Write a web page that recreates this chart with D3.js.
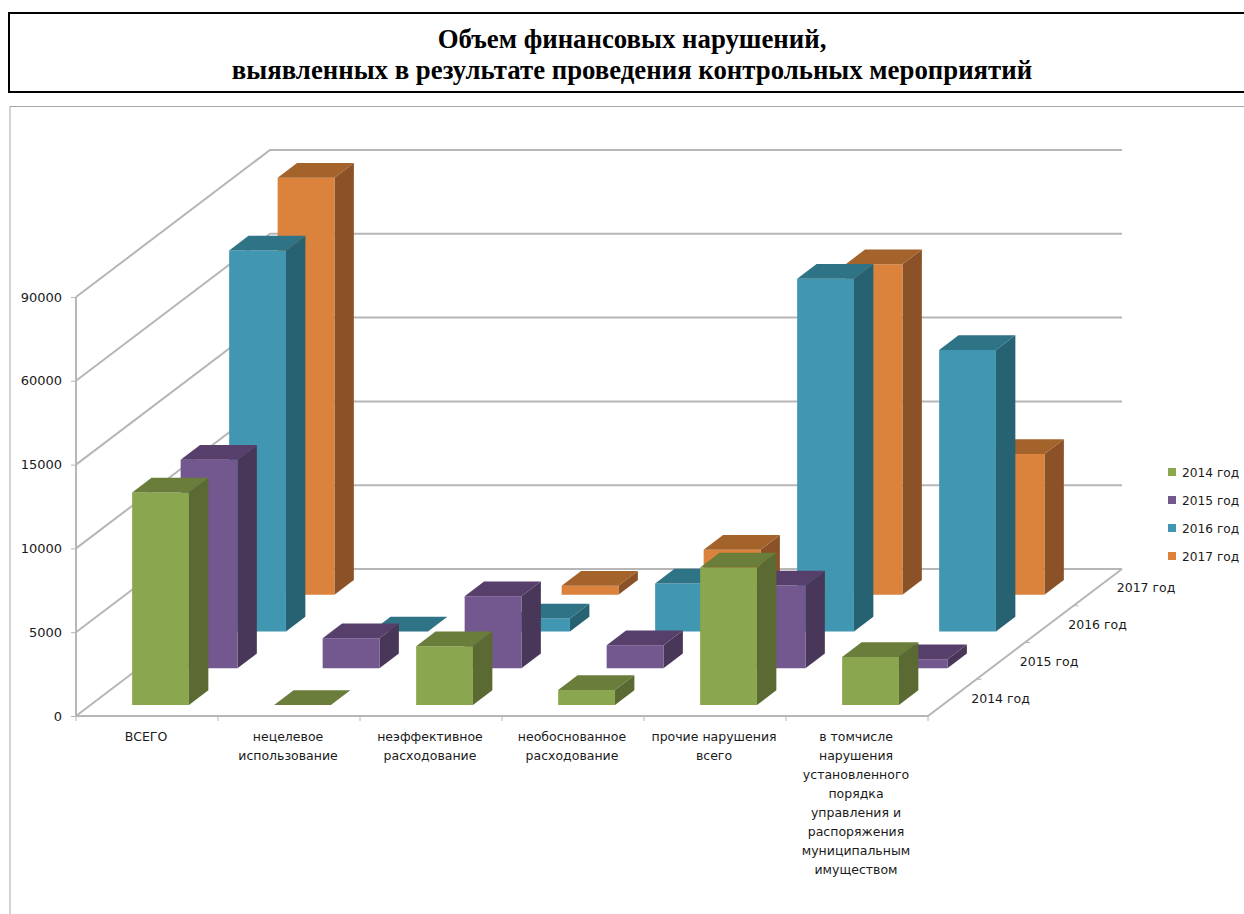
<!DOCTYPE html>
<html lang="ru">
<head>
<meta charset="utf-8">
<title>Объем финансовых нарушений</title>
<script src="https://cdn.jsdelivr.net/npm/d3@7"></script>
<style>
  html, body { margin: 0; padding: 0; background: #fff; overflow: hidden; }
  svg { display: block; }
</style>
</head>
<body>
<div id="chart"></div>
<script>
const categories = [
    "ВСЕГО",
    "нецелевое\nиспользование",
    "неэффективное\nрасходование",
    "необоснованное\nрасходование",
    "прочие нарушения\nвсего",
    "в томчисле\nнарушения\nустановленного\nпорядка\nуправления и\nраспоряжения\nмуниципальным\nимуществом"
];
const years = ["2014 год", "2015 год", "2016 год", "2017 год"];
const yTicks = [0, 5000, 10000, 15000, 60000, 90000];

// the value axis is not uniform
const values2014 = [12680, 0, 3510, 890, 8210, 2860];
const values2015 = [12440, 1790, 4290, 1370, 4940, 540];
const values2016 = [76400, 0, 770, 2860, 66300, 31200];
const values2017 = [89300, null, 540, 2680, 57500, 8400];
const seriesValues = [values2014, values2015, values2016, values2017];

const front = ["#8aa64e", "#72588f", "#4197b1", "#db823c"];
const top_ = ["#6b7d3b", "#573f6b", "#2f7386", "#a5632c"];
const side = ["#5a6a32", "#483758", "#266272", "#8a5226"];

const width = 1244;
const height = 914;
const originX = 76;
const originY = 716;
const plotW = 852;
const plotH = 419;
const depthX = 194;
const depthY = 147;
const gridColor = "#b6b6b6";
const labelFont = "'DejaVu Sans', sans-serif";

const x = d3.scaleBand().domain(categories).range([-1, plotW - 1]).paddingInner(0.6).paddingOuter(0.3);
const z = d3.scaleBand().domain(years).range([0, 1]).paddingInner(0.6).paddingOuter(0.3);
// one step per tick label, that is how the axis is spaced in the original
const y = d3.scaleLinear().domain(yTicks).range(yTicks.map((d, i) => originY - i * plotH / (yTicks.length - 1)));

// x along the categories, v is a value, d is depth 0..1
const pt = (px, v, d) => [originX + px + d * depthX, y(v) - d * depthY];
const poly = pts => pts.map(p => p.join(",")).join(" ");

const svg = d3.select("#chart").append("svg")
    .attr("width", width)
    .attr("height", height)
    .attr("viewBox", [0, 0, width, height]);

// title box
svg.append("rect")
    .attr("x", 9).attr("y", 13).attr("width", width + 10).attr("height", 79)
    .attr("fill", "none").attr("stroke", "#000").attr("stroke-width", 2);

svg.append("text")
    .attr("text-anchor", "middle")
    .attr("font-family", "'Liberation Serif', serif")
    .attr("font-weight", "bold")
    .attr("font-size", 26.8)
    .selectAll("tspan")
    .data(["Объем финансовых нарушений,", "выявленных в результате проведения контрольных мероприятий"])
    .join("tspan")
    .attr("x", 632)
    .attr("y", (d, i) => 48 + i * 31)
    .text(d => d);

// chart frame, runs off the page on the right and at the bottom
svg.append("rect")
    .attr("x", 10).attr("y", 106.5).attr("width", width + 10).attr("height", height)
    .attr("fill", "none").attr("stroke", "#a6a6a6").attr("stroke-width", 1);

// walls
const grid = svg.append("g")
    .attr("fill", "none").attr("stroke", gridColor).attr("stroke-width", 2);

yTicks.forEach(t => {
    grid.append("polyline").attr("points", poly([pt(0, t, 0), pt(0, t, 1), pt(plotW, t, 1)]));
});
grid.append("polyline")
    .attr("points", poly([pt(0, yTicks[5], 0), pt(0, 0, 0), pt(plotW, 0, 0), pt(plotW, 0, 1)]));

// axes
const yAxis = svg.append("g")
    .attr("transform", `translate(${originX},0)`)
    .call(d3.axisLeft(y).tickValues(yTicks).tickSize(5).tickPadding(9).tickFormat(d3.format("d")));
yAxis.select(".domain").remove();
yAxis.selectAll("line").attr("stroke", gridColor);
yAxis.selectAll("text")
    .attr("font-family", labelFont).attr("font-size", 13).attr("fill", "#1a1a1a");

const xAxis = svg.append("g")
    .attr("transform", `translate(${originX},${originY})`)
    .call(d3.axisBottom(x).tickSize(0).tickFormat(""));
xAxis.select(".domain").remove();

svg.append("g")
    .attr("stroke", gridColor)
    .selectAll("line")
    .data(d3.range(categories.length + 1))
    .join("line")
    .attr("x1", i => originX + i * x.step())
    .attr("x2", i => originX + i * x.step())
    .attr("y1", originY)
    .attr("y2", originY + 5);

xAxis.selectAll(".tick text")
    .attr("font-family", labelFont)
    .attr("font-size", 12.5)
    .attr("fill", "#1a1a1a")
    .attr("y", 0)
    .attr("dy", null)
    .selectAll("tspan")
    .data(d => d.split("\n"))
    .join("tspan")
    .attr("x", 0)
    .attr("y", (d, i) => 25 + i * 19)
    .text(d => d);

// depth axis along the right edge of the floor
const zAxis = svg.append("g");
d3.range(1, years.length).forEach(i => {
    const p = pt(plotW, 0, i / years.length);
    zAxis.append("line")
        .attr("x1", p[0]).attr("y1", p[1])
        .attr("x2", p[0] + 5).attr("y2", p[1])
        .attr("stroke", gridColor);
});
zAxis.selectAll("text")
    .data(years)
    .join("text")
    .attr("x", d => pt(plotW, 0, z(d) + z.bandwidth() / 2)[0] + 19)
    .attr("y", d => pt(plotW, 0, z(d) + z.bandwidth() / 2)[1] + 5)
    .attr("font-family", labelFont)
    .attr("font-size", 12.5)
    .attr("fill", "#1a1a1a")
    .text(d => d);

// bars, the back row first
const bars = svg.append("g");
d3.range(years.length - 1, -1, -1).forEach(s => {
    const z0 = z(years[s]);
    const z1 = z0 + z.bandwidth();
    categories.forEach((c, i) => {
        const v = seriesValues[s][i];
        if (v === null) return;
        const x0 = x(c);
        const x1 = x0 + x.bandwidth();
        const g = bars.append("g");
        if (v > 0) {
            g.append("polygon").attr("fill", side[s])
                .attr("points", poly([pt(x1, 0, z0), pt(x1, 0, z1), pt(x1, v, z1), pt(x1, v, z0)]));
            g.append("polygon").attr("fill", front[s])
                .attr("points", poly([pt(x0, 0, z0), pt(x1, 0, z0), pt(x1, v, z0), pt(x0, v, z0)]));
        }
        g.append("polygon").attr("fill", top_[s])
            .attr("points", poly([pt(x0, v, z0), pt(x1, v, z0), pt(x1, v, z1), pt(x0, v, z1)]));
    });
});

// legend
const legend = svg.append("g")
    .selectAll("g")
    .data(years)
    .join("g")
    .attr("transform", (d, i) => `translate(1168,${472 + i * 28})`);

legend.append("rect")
    .attr("x", 0).attr("y", -4).attr("width", 8).attr("height", 8)
    .attr("fill", (d, i) => front[i]);

legend.append("text")
    .attr("x", 14).attr("y", 5)
    .attr("font-family", labelFont)
    .attr("font-size", 12.2)
    .attr("fill", "#1a1a1a")
    .text(d => d);
</script>
</body>
</html>
